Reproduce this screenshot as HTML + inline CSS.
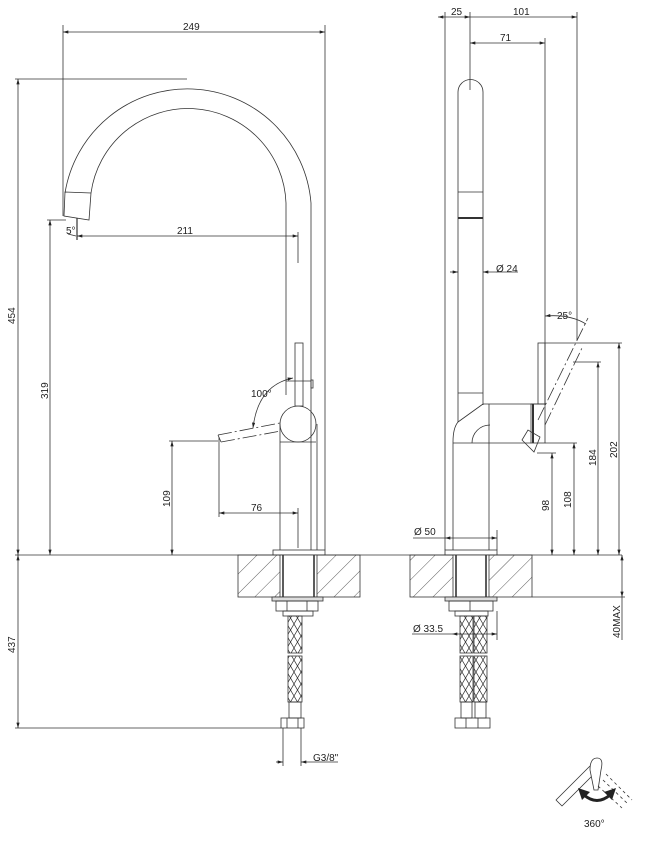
<!DOCTYPE html>
<html><head><meta charset="utf-8"><style>
html,body{margin:0;padding:0;background:#fff}
svg{display:block}
text{font-family:"Liberation Sans",sans-serif;font-size:10px;fill:#222}
</style></head><body>
<svg width="648" height="842" viewBox="0 0 648 842" xmlns="http://www.w3.org/2000/svg">
<defs>
<pattern id="h" width="14" height="14" patternUnits="userSpaceOnUse" patternTransform="rotate(45)">
<line x1="0" y1="0" x2="0" y2="14" stroke="#333" stroke-width="0.8"/>
</pattern>
<pattern id="x" width="7" height="12" patternUnits="userSpaceOnUse">
<path d="M0 0L7 12M7 0L0 12" stroke="#333" stroke-width="0.7" fill="none"/>
</pattern>
<marker id="a" viewBox="0 0 10 6" refX="10" refY="3" markerWidth="8" markerHeight="4" orient="auto-start-reverse"><path d="M0 0L10 3L0 6z" fill="#222"/></marker>
</defs>
<g stroke="#333" stroke-width="0.8" fill="none">
<!-- ===== LEFT VIEW ===== -->
<line x1="63" y1="32" x2="325" y2="32" marker-start="url(#a)" marker-end="url(#a)"/>
<line x1="63" y1="25" x2="63" y2="216"/>
<line x1="325" y1="25" x2="325" y2="550"/>
<path d="M65 193 A124 124 0 0 1 311 203 L311 550"/>
<path d="M91 193 A98 98 0 0 1 286 203 L286 395"/>
<path d="M65 192 L91 193 L89 220 L64 216 Z"/>
<path d="M77 218 L77 240" stroke-width="1.2"/>
<circle cx="298" cy="424" r="18"/>
<line x1="280" y1="442" x2="316" y2="442"/>
<line x1="280" y1="424" x2="280" y2="550"/>
<line x1="317" y1="424" x2="317" y2="550"/>
<rect x="295" y="343" width="8" height="63" fill="#fff"/>
<line x1="286" y1="381" x2="311" y2="381"/>
<rect x="311" y="380" width="2" height="8"/>
<rect x="273" y="550" width="52" height="5"/>
<path d="M218 435 L280 423" stroke-dasharray="14 3 2 3"/>
<path d="M221 442 L281 431" stroke-dasharray="14 3 2 3"/>
<line x1="218" y1="435" x2="221" y2="442"/>
<path d="M293 378 Q258 385 253 428" marker-start="url(#a)" marker-end="url(#a)"/>
<line x1="15" y1="79" x2="187" y2="79"/>
<line x1="18" y1="79" x2="18" y2="555" marker-start="url(#a)" marker-end="url(#a)"/>
<line x1="47" y1="220" x2="66" y2="220"/>
<line x1="50" y1="220" x2="50" y2="555" marker-start="url(#a)" marker-end="url(#a)"/>
<line x1="169" y1="441" x2="218" y2="441"/>
<line x1="172" y1="441" x2="172" y2="555" marker-start="url(#a)" marker-end="url(#a)"/>
<line x1="219" y1="437" x2="219" y2="517"/>
<line x1="219" y1="513" x2="298" y2="513" marker-start="url(#a)" marker-end="url(#a)"/>
<line x1="298" y1="508" x2="298" y2="548"/>
<line x1="77" y1="236" x2="298" y2="236" marker-start="url(#a)" marker-end="url(#a)"/>
<line x1="298" y1="232" x2="298" y2="263"/>
<line x1="68" y1="234" x2="76" y2="236"/>
<line x1="15" y1="555" x2="622" y2="555"/>
<rect x="238" y="555" width="122" height="42" fill="url(#h)"/>
<rect x="280" y="555" width="37" height="42" fill="#fff"/>
<line x1="283" y1="555" x2="283" y2="597" stroke-width="1.6"/>
<line x1="314" y1="555" x2="314" y2="597" stroke-width="1.6"/>
<rect x="272" y="597" width="51" height="4" fill="#ddd"/>
<rect x="276" y="601" width="42" height="10"/>
<line x1="287" y1="601" x2="287" y2="611"/><line x1="307" y1="601" x2="307" y2="611"/>
<rect x="283" y="611" width="30" height="5"/>
<rect x="288" y="616" width="14" height="37" fill="url(#x)"/>
<rect x="288" y="656" width="14" height="46" fill="url(#x)"/>
<rect x="289" y="702" width="12" height="16"/>
<rect x="281" y="718" width="23" height="10"/>
<line x1="287" y1="718" x2="287" y2="728"/><line x1="298" y1="718" x2="298" y2="728"/>
<line x1="15" y1="728" x2="281" y2="728"/>
<line x1="18" y1="555" x2="18" y2="728" marker-start="url(#a)" marker-end="url(#a)"/>
<line x1="283" y1="728" x2="283" y2="766"/>
<line x1="301" y1="728" x2="301" y2="766"/>
<line x1="276" y1="762" x2="283" y2="762" marker-end="url(#a)"/>
<line x1="338" y1="762" x2="301" y2="762" marker-end="url(#a)"/>

<!-- ===== RIGHT VIEW ===== -->
<line x1="438" y1="17" x2="470" y2="17" marker-start="url(#a)" marker-end="url(#a)"/>
<line x1="470" y1="17" x2="577" y2="17" marker-end="url(#a)"/>
<line x1="445" y1="12" x2="445" y2="550"/>
<line x1="470" y1="12" x2="470" y2="90"/>
<line x1="577" y1="12" x2="577" y2="340"/>
<line x1="470" y1="43" x2="545" y2="43" marker-start="url(#a)" marker-end="url(#a)"/>
<line x1="545" y1="38" x2="545" y2="405"/>
<path d="M458 393 L458 92 A12.5 12.5 0 0 1 483 92 L483 405"/>
<line x1="458" y1="192" x2="483" y2="192"/>
<line x1="458" y1="393" x2="483" y2="393"/>
<path d="M458 218 L483 218" stroke-width="2"/>
<line x1="450" y1="272" x2="458" y2="272" marker-end="url(#a)"/>
<line x1="518" y1="272" x2="483" y2="272" marker-end="url(#a)"/>
<path d="M458 393 L458 422 Q453 428 453 442 L453 550"/>
<path d="M483 404 L458 422"/>
<line x1="483" y1="404" x2="545" y2="404"/>
<line x1="489" y1="404" x2="489" y2="550"/>
<line x1="453" y1="443" x2="531" y2="443"/>
<path d="M472 443 A18 18 0 0 1 490 425"/>
<rect x="531" y="404" width="14" height="39"/>
<line x1="533" y1="404" x2="533" y2="443" stroke-width="2"/>
<rect x="538" y="343" width="7" height="61"/>
<path d="M522 440 L528 430 L540 437 L534 452 Z"/>
<path d="M538 420 L588 318" stroke-dasharray="14 3 2 3"/>
<path d="M545 425 L582 348" stroke-dasharray="14 3 2 3"/>
<path d="M545 316 Q570 314 586 324" marker-start="url(#a)"/>
<rect x="445" y="550" width="52" height="5"/>
<line x1="445" y1="538" x2="497" y2="538" marker-start="url(#a)" marker-end="url(#a)"/>
<line x1="413" y1="538" x2="445" y2="538"/>
<line x1="497" y1="530" x2="497" y2="550"/>
<line x1="545" y1="343" x2="622" y2="343"/>
<line x1="619" y1="343" x2="619" y2="555" marker-start="url(#a)" marker-end="url(#a)"/>
<line x1="573" y1="362" x2="601" y2="362"/>
<line x1="598" y1="362" x2="598" y2="555" marker-start="url(#a)" marker-end="url(#a)"/>
<line x1="545" y1="443" x2="577" y2="443"/>
<line x1="574" y1="443" x2="574" y2="555" marker-start="url(#a)" marker-end="url(#a)"/>
<line x1="537" y1="453" x2="556" y2="453"/>
<line x1="552" y1="453" x2="552" y2="555" marker-start="url(#a)" marker-end="url(#a)"/>
<rect x="410" y="555" width="122" height="42" fill="url(#h)"/>
<rect x="453" y="555" width="36" height="42" fill="#fff"/>
<line x1="456" y1="555" x2="456" y2="597" stroke-width="1.6"/>
<line x1="486" y1="555" x2="486" y2="597" stroke-width="1.6"/>
<line x1="532" y1="597" x2="625" y2="597"/>
<line x1="622" y1="555" x2="622" y2="597" marker-start="url(#a)" marker-end="url(#a)"/>
<line x1="622" y1="597" x2="622" y2="640"/>
<rect x="445" y="597" width="52" height="4" fill="#ddd"/>
<rect x="449" y="601" width="44" height="10"/>
<line x1="470" y1="601" x2="470" y2="611"/>
<rect x="455" y="611" width="33" height="5"/>
<rect x="460" y="616" width="13" height="37" fill="url(#x)"/>
<rect x="474" y="616" width="13" height="37" fill="url(#x)"/>
<rect x="460" y="656" width="13" height="46" fill="url(#x)"/>
<rect x="474" y="656" width="13" height="46" fill="url(#x)"/>
<rect x="461" y="702" width="11" height="16"/>
<rect x="475" y="702" width="11" height="16"/>
<rect x="455" y="718" width="35" height="10"/>
<line x1="466" y1="718" x2="466" y2="728"/><line x1="478" y1="718" x2="478" y2="728"/>
<line x1="412" y1="634" x2="452" y2="634"/>
<line x1="452" y1="634" x2="497" y2="634" marker-start="url(#a)" marker-end="url(#a)"/>
<line x1="497" y1="611" x2="497" y2="640"/>
<!-- icon -->
<path d="M556 800 L590 766 L596 772 L562 806 Z" stroke-linejoin="round"/>
<path d="M590 770 Q590 758 597 758 Q604 758 601 770 L598 790 L594 790 Z" fill="#fff"/>
<path d="M606 774 L632 800 M603 780 L628 804 M598 786 L622 808" stroke-dasharray="3 3"/>
<path d="M584 795 Q597 806 610 795" stroke="#222" stroke-width="3"/>
<path d="M578 788 L590 792 L582 800 Z" fill="#222" stroke="none"/>
<path d="M616 788 L604 792 L612 800 Z" fill="#222" stroke="none"/>
</g>
<g>
<text x="183" y="30">249</text>
<text x="66" y="234" font-size="9">5°</text>
<text x="177" y="234">211</text>
<text x="251" y="397" font-size="9">100°</text>
<text x="251" y="511">76</text>
<text transform="translate(15,324) rotate(-90)">454</text>
<text transform="translate(48,399) rotate(-90)">319</text>
<text transform="translate(170,507) rotate(-90)">109</text>
<text transform="translate(15,653) rotate(-90)">437</text>
<text x="313" y="761" font-size="9">G3/8"</text>
<text x="451" y="15">25</text>
<text x="513" y="15">101</text>
<text x="500" y="41">71</text>
<text x="496" y="272">Ø 24</text>
<text x="557" y="319">25°</text>
<text x="414" y="535">Ø 50</text>
<text x="413" y="632">Ø 33.5</text>
<text transform="translate(549,511) rotate(-90)">98</text>
<text transform="translate(571,508) rotate(-90)">108</text>
<text transform="translate(596,466) rotate(-90)">184</text>
<text transform="translate(617,458) rotate(-90)">202</text>
<text transform="translate(620,638) rotate(-90)" font-size="9">40MAX</text>
<text x="584" y="827" font-size="12">360°</text>
</g>
</svg>
</body></html>
